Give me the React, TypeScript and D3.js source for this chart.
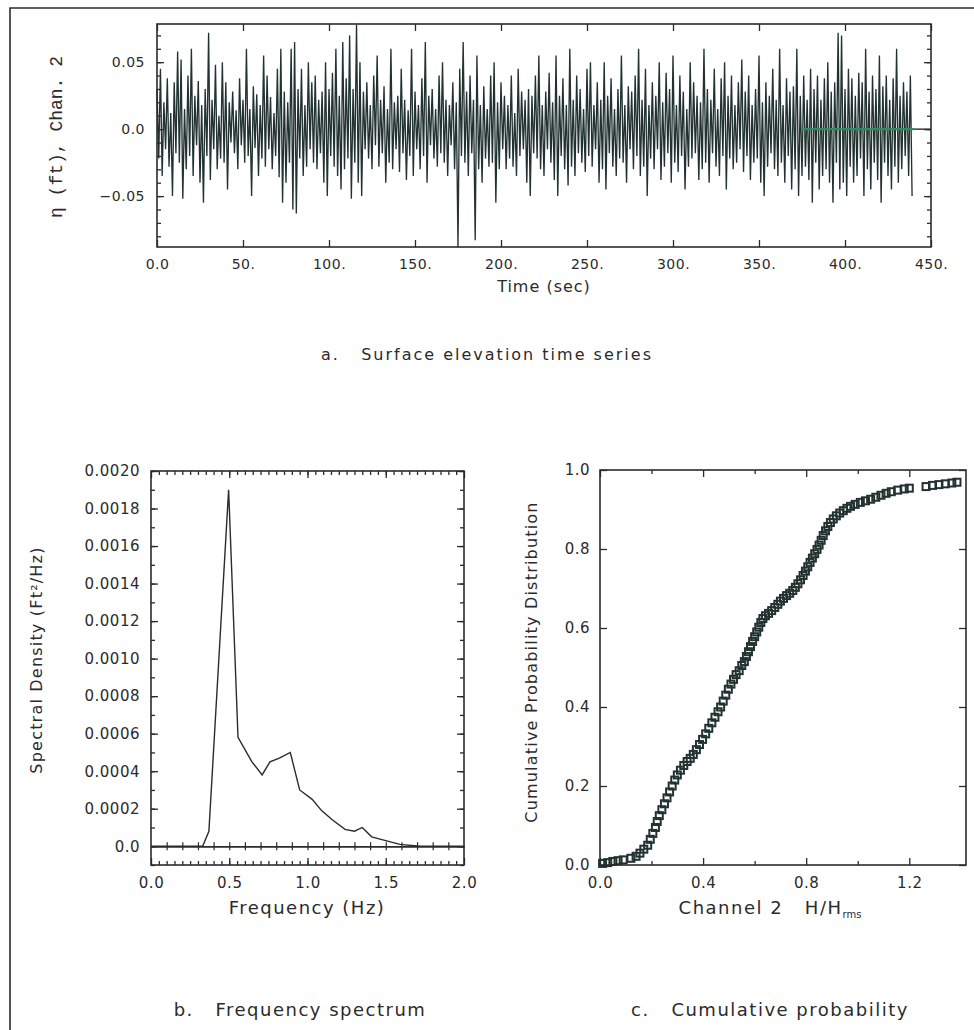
import React, { useRef, useEffect } from "react";
import * as d3 from "d3";

const ink = "#2b2b2b";
const trace = "#22332f";

// ---- a. surface elevation time series (one sample per second, in 0.001 ft)
const etaMilliFt = [
  30,-22,45,-35,20,-15,38,-28,12,-50,35,-18,58,-25,52,-52,15,-30,40,-20,
  60,-35,25,-12,36,-40,18,-55,30,-20,72,-38,22,-15,48,-30,10,-22,50,-25,
  35,-45,20,-10,28,-18,14,-30,38,-12,22,-25,60,-20,15,-50,32,-14,26,-35,
  18,-22,55,-28,40,-15,24,-30,12,-20,45,-36,60,-55,28,-40,20,-25,60,-60,
  65,-63,30,-22,45,-35,18,-28,50,-15,35,-25,40,-30,22,-18,28,-40,50,-50,
  30,-20,42,-28,60,-35,25,-45,65,-30,38,-22,70,-52,30,-25,78,-40,50,-50,
  28,-15,35,-22,18,-30,40,-12,55,-28,22,-18,32,-40,15,-25,60,-30,20,-15,
  25,-32,45,-18,22,-38,14,-20,60,-35,28,-15,18,-30,38,-20,65,-40,25,-12,
  30,-22,15,-28,40,-18,50,-25,22,-35,18,-12,35,-30,20,-88,45,-20,65,-25,
  28,-35,40,-18,22,-83,55,-30,18,-40,32,-22,15,-28,40,-25,50,-55,20,-30,
  35,-15,25,-30,18,-22,40,-28,12,-35,45,-20,28,-15,22,-40,30,-50,25,-18,
  40,-22,55,-30,18,-35,28,-15,42,-25,20,-38,55,-50,25,-20,38,-30,18,-42,
  60,-28,22,-35,40,-18,30,-25,15,-32,45,-20,50,-28,18,-15,35,-40,22,-30,
  50,-45,25,-18,38,-28,15,-35,30,-22,55,-25,18,-40,32,-15,28,-30,40,-20,
  60,-35,22,-28,45,-50,18,-22,35,-30,25,-15,50,-38,20,-28,42,-18,30,-40,
  55,-25,18,-32,40,-20,28,-45,15,-28,50,-22,35,-18,25,-38,20,-30,60,-25,
  30,-40,22,-18,45,-28,15,-35,38,-20,50,-45,25,-22,40,-30,18,-25,35,-15,
  52,-32,28,-20,40,-38,18,-25,30,-22,55,-40,20,-50,35,-28,25,-18,45,-30,
  22,-35,60,-25,18,-40,38,-20,28,-45,32,-30,60,-50,25,-35,40,-28,22,-38,
  45,-55,30,-25,40,-45,22,-35,38,-30,50,-40,28,-55,35,-25,72,-45,70,-40,
  30,-50,45,-28,38,-40,25,-35,42,-22,35,-50,60,-30,28,-45,40,-25,30,-38,
  55,-55,32,-25,40,-35,22,-45,38,-28,60,-40,25,-30,35,-20,28,-35,40,-50,
];
const timeTicks = [0, 50, 100, 150, 200, 250, 300, 350, 400, 450];
const timeLabels = ["0.0", "50.", "100.", "150.", "200.", "250.", "300.", "350.", "400.", "450."];
const etaTicks = [-0.05, 0, 0.05];
const etaLabels = ["\u22120.05", "0.0", "0.05"];
const zeroMarkSpan = [375, 440]; // green zero line at end of record

// ---- b. frequency spectrum
const specFreq = [0, 0.33, 0.37, 0.496, 0.556, 0.645, 0.71, 0.76, 0.82, 0.89, 0.95, 1.03, 1.09, 1.16, 1.24, 1.3, 1.35, 1.41, 1.5, 1.59, 1.72, 2.0];
const specDens = [0, 0, 0.00008, 0.0019, 0.00058, 0.00045, 0.00038, 0.00045, 0.00047, 0.0005, 0.0003, 0.00025, 0.00019, 0.00014, 0.00009, 0.00008, 0.0001, 0.00005, 0.00003, 0.00001, 0, 0];
const freqTicks = [0, 0.5, 1.0, 1.5, 2.0];
const freqLabels = ["0.0", "0.5", "1.0", "1.5", "2.0"];
const densTicks = [0, 0.0002, 0.0004, 0.0006, 0.0008, 0.001, 0.0012, 0.0014, 0.0016, 0.0018, 0.002];
const densLabels = ["0.0", "0.0002", "0.0004", "0.0006", "0.0008", "0.0010", "0.0012", "0.0014", "0.0016", "0.0018", "0.0020"];

// ---- c. cumulative probability of H/Hrms
const cdfH = [
  0.01,0.03,0.05,0.07,0.09,0.12,0.14,0.155,0.17,0.185,0.195,0.205,0.215,0.222,0.23,0.24,0.25,0.26,0.27,0.28,
  0.29,0.3,0.312,0.325,0.338,0.35,0.362,0.374,0.386,0.398,0.41,0.422,0.434,0.446,0.458,0.468,0.478,0.488,0.498,0.508,
  0.518,0.528,0.54,0.55,0.56,0.568,0.576,0.584,0.592,0.6,0.608,0.616,0.624,0.632,0.642,0.654,0.666,0.678,0.69,0.7,
  0.712,0.724,0.736,0.748,0.758,0.768,0.778,0.788,0.797,0.806,0.815,0.824,0.833,0.842,0.85,0.858,0.866,0.875,0.884,0.894,
  0.905,0.917,0.93,0.944,0.958,0.972,0.99,1.01,1.03,1.05,1.07,1.09,1.11,1.13,1.155,1.18,1.2,1.265,1.29,1.315,1.34,1.365,1.385,
];
const cdfP = [
  0.004,0.006,0.009,0.011,0.013,0.017,0.022,0.03,0.04,0.05,0.065,0.08,0.095,0.11,0.125,0.14,0.155,0.17,0.185,0.2,
  0.215,0.228,0.24,0.252,0.262,0.27,0.28,0.292,0.305,0.318,0.332,0.346,0.36,0.374,0.388,0.4,0.415,0.43,0.445,0.458,
  0.47,0.482,0.492,0.505,0.515,0.528,0.54,0.553,0.566,0.578,0.59,0.602,0.614,0.624,0.631,0.637,0.644,0.652,0.66,0.668,
  0.675,0.682,0.688,0.695,0.703,0.712,0.722,0.733,0.744,0.755,0.766,0.777,0.788,0.799,0.81,0.822,0.834,0.846,0.857,0.867,
  0.876,0.884,0.891,0.897,0.903,0.908,0.913,0.918,0.922,0.926,0.931,0.936,0.941,0.945,0.949,0.952,0.954,0.958,0.961,0.963,0.965,0.967,0.969,
];
const hTicks = [0, 0.4, 0.8, 1.2];
const hLabels = ["0.0", "0.4", "0.8", "1.2"];
const probTicks = [0, 0.2, 0.4, 0.6, 0.8, 1.0];
const probLabels = ["0.0", "0.2", "0.4", "0.6", "0.8", "1.0"];

const font = "'DejaVu Sans', sans-serif";

function styleAxis(g: any, size: number) {
  g.select(".domain").remove();
  g.selectAll(".tick line").attr("stroke", ink).attr("stroke-width", 1.3);
  g.selectAll(".tick text").attr("fill", ink).attr("font-family", font).attr("font-size", size).attr("letter-spacing", 0.5);
}

// box with inward ticks on all four sides
function frame(svg: any, x: any, y: any, o: any) {
  const [x0, x1] = x.range();
  const [y0, y1] = y.range();
  const g = svg.append("g");
  const put = (axis: any, tr: string, size = 14) =>
    g.append("g").attr("transform", tr).call(axis).call((s: any) => styleAxis(s, size));
  const none = () => "";
  put(d3.axisBottom(x).tickValues(o.xMinor).tickSize(-4).tickFormat(none), `translate(0,${y0})`);
  put(d3.axisTop(x).tickValues(o.xMinor).tickSize(-4).tickFormat(none), `translate(0,${y1})`);
  put(d3.axisLeft(y).tickValues(o.yMinor).tickSize(-4).tickFormat(none), `translate(${x0},0)`);
  put(d3.axisRight(y).tickValues(o.yMinor).tickSize(-4).tickFormat(none), `translate(${x1},0)`);
  put(d3.axisBottom(x).tickValues(o.xMajor).tickSize(-7).tickPadding(o.xPad).tickFormat((d: any, i: number) => o.xLabels[i]), `translate(0,${y0})`, o.size);
  put(d3.axisTop(x).tickValues(o.xMajor).tickSize(-7).tickFormat(none), `translate(0,${y1})`);
  put(d3.axisLeft(y).tickValues(o.yMajor).tickSize(-7).tickPadding(o.yPad).tickFormat((d: any, i: number) => o.yLabels[i]), `translate(${x0},0)`, o.size);
  put(d3.axisRight(y).tickValues(o.yMajor).tickSize(-7).tickFormat(none), `translate(${x1},0)`);
  g.append("rect")
    .attr("x", x0).attr("y", y1).attr("width", x1 - x0).attr("height", y0 - y1)
    .attr("fill", "none").attr("stroke", ink).attr("stroke-width", 1.6);
}

function label(svg: any, text: string, x: number, y: number, size: number, rotate = false, spacing = 1) {
  const t = svg.append("text")
    .attr("x", x).attr("y", y)
    .attr("text-anchor", "middle")
    .attr("font-family", font).attr("font-size", size)
    .attr("letter-spacing", spacing)
    .attr("fill", ink)
    .style("white-space", "pre")
    .text(text);
  if (rotate) t.attr("transform", `rotate(-90,${x},${y})`);
  return t;
}

export default function App() {
  const ref = useRef<SVGSVGElement>(null);

  useEffect(() => {
    const svg = d3.select(ref.current);
    svg.selectAll("*").remove();

    // outer border of the page figure (left and top edges are in view)
    svg.append("path")
      .attr("d", "M10,1030 V8 H974")
      .attr("fill", "none").attr("stroke", ink).attr("stroke-width", 1.6);

    // ---------- panel a
    const xa = d3.scaleLinear().domain([0, 450]).range([157, 931]);
    const ya = d3.scaleLinear().domain([-0.088, 0.0785]).range([247, 24]);
    const series = etaMilliFt.map((v, i) => [i, v / 1000]);
    svg.append("path")
      .datum(series)
      .attr("fill", "none").attr("stroke", trace).attr("stroke-width", 1.35)
      .attr("d", d3.line().x((d: any) => xa(d[0])).y((d: any) => ya(d[1])) as any);
    svg.append("line")
      .attr("x1", xa(zeroMarkSpan[0])).attr("x2", xa(zeroMarkSpan[1]))
      .attr("y1", ya(0)).attr("y2", ya(0))
      .attr("stroke", "#2f8a64").attr("stroke-width", 2.4);
    svg.append("line")
      .attr("x1", xa(zeroMarkSpan[1])).attr("x2", xa(450))
      .attr("y1", ya(0)).attr("y2", ya(0))
      .attr("stroke", ink).attr("stroke-width", 1.4);
    frame(svg, xa, ya, {
      xMajor: timeTicks, xMinor: [], xLabels: timeLabels, xPad: 12,
      yMajor: etaTicks, yMinor: d3.range(-8, 8).map((k) => k / 100), yLabels: etaLabels, yPad: 12,
      size: 14,
    });
    svg.append("text")
      .attr("x", 62).attr("y", 137)
      .attr("transform", "rotate(-90,62,137)")
      .attr("text-anchor", "middle")
      .attr("font-family", "'Liberation Mono', monospace").attr("font-size", 18)
      .attr("fill", ink)
      .text("\u03b7 (ft), Chan. 2");
    label(svg, "Time (sec)", 544, 292, 16, false, 1);
    label(svg, "a.   Surface elevation time series", 487, 360, 16, false, 2);

    // ---------- panel b
    const xb = d3.scaleLinear().domain([0, 2]).range([151, 464]);
    const yb = d3.scaleLinear().domain([-0.0001, 0.002]).range([865, 471]);
    // zero line with crossing ticks
    const zero = svg.append("g").attr("transform", `translate(0,${yb(0)})`);
    [4, -4].forEach((s) =>
      zero.append("g")
        .call(d3.axisBottom(xb).tickValues(d3.range(1, 20).map((k) => k / 10)).tickSize(s).tickSizeOuter(0).tickFormat(() => "") as any)
        .call((g: any) => {
          g.select(".domain").attr("stroke", ink).attr("stroke-width", 1.3);
          g.selectAll(".tick line").attr("stroke", ink).attr("stroke-width", 1.2);
        })
    );
    svg.append("path")
      .datum(specFreq.map((f, i) => [f, specDens[i]]))
      .attr("fill", "none").attr("stroke", ink).attr("stroke-width", 1.4)
      .attr("d", d3.line().x((d: any) => xb(d[0])).y((d: any) => yb(d[1])) as any);
    frame(svg, xb, yb, {
      xMajor: freqTicks, xMinor: d3.range(1, 40).map((k) => k / 20), xLabels: freqLabels, xPad: 12,
      yMajor: densTicks, yMinor: d3.range(-1, 21).map((k) => k / 10000), yLabels: densLabels, yPad: 11,
      size: 15,
    });
    label(svg, "Spectral Density (Ft\u00b2/Hz)", 42, 660, 16, true, 1.2);
    label(svg, "Frequency (Hz)", 307, 914, 18, false, 1.5);
    label(svg, "b.   Frequency spectrum", 300, 1016, 18, false, 1.5);

    // ---------- panel c
    const xc = d3.scaleLinear().domain([0, 1.42]).range([600, 966]);
    const yc = d3.scaleLinear().domain([0, 1]).range([865, 470]);
    const sq = 7;
    svg.append("g")
      .selectAll("rect")
      .data(cdfH.map((h, i) => [h, cdfP[i]]))
      .join("rect")
      .attr("x", (d: any) => xc(d[0]) - sq / 2)
      .attr("y", (d: any) => yc(d[1]) - sq / 2)
      .attr("width", sq).attr("height", sq)
      .attr("fill", "none").attr("stroke", trace).attr("stroke-width", 2);
    frame(svg, xc, yc, {
      xMajor: hTicks, xMinor: [0.2, 0.6, 1.0], xLabels: hLabels, xPad: 12,
      yMajor: probTicks, yMinor: [], yLabels: probLabels, yPad: 10,
      size: 15,
    });
    label(svg, "Cumulative Probability Distribution", 537, 662, 16, true, 1.2);
    const ch = label(svg, "Channel 2   H/H", 770, 914, 18, false, 1.5);
    ch.append("tspan").attr("font-size", 10).attr("dy", 4).attr("letter-spacing", 0).text("rms");
    label(svg, "c.   Cumulative probability", 770, 1016, 18, false, 1.5);
  }, []);

  return (
    <svg
      ref={ref}
      width={974}
      height={1030}
      style={{ position: "absolute", left: 0, top: 0, background: "#fff" }}
    />
  );
}
